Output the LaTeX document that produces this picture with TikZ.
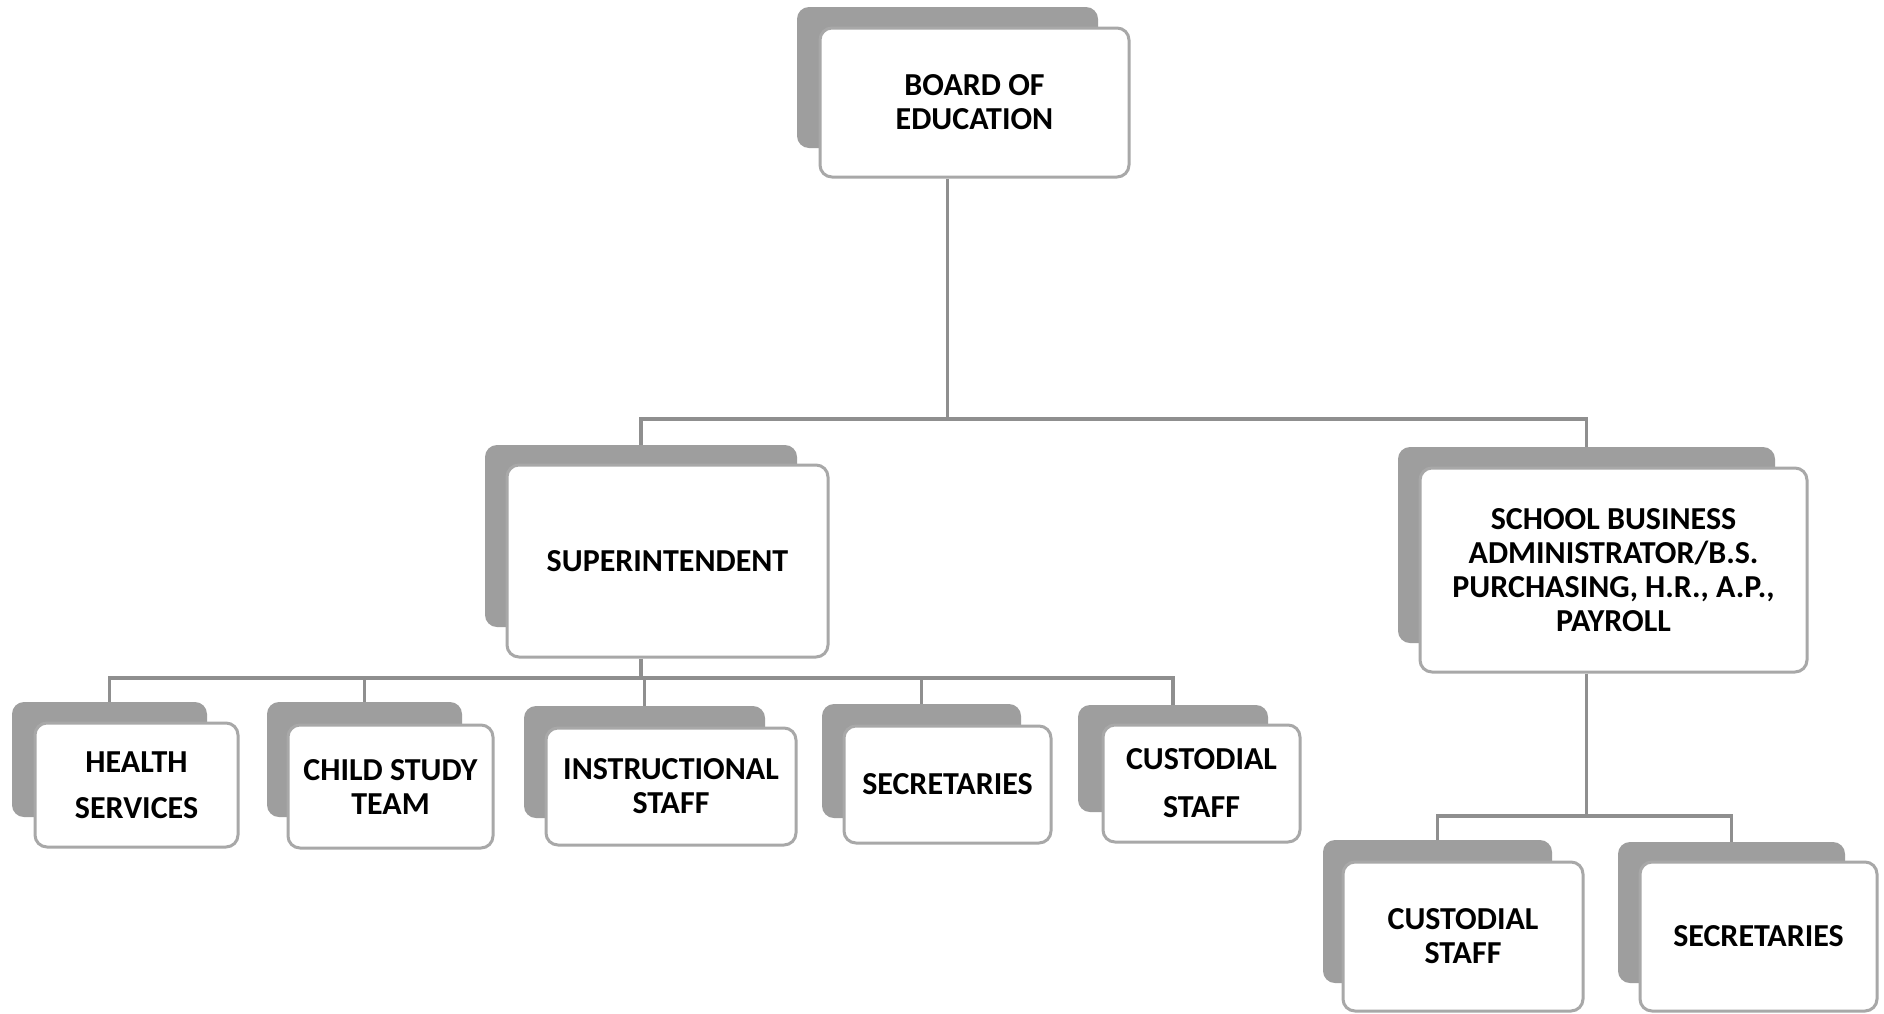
\documentclass[tikz,border=0pt]{standalone}
\usepackage{fontspec}
\setmainfont{Carlito}
\usetikzlibrary{fit}
\definecolor{backgray}{gray}{0.62}
\definecolor{edgegray}{gray}{0.66}
\definecolor{linegray}{gray}{0.56}
\tikzset{
  backbox/.style={fill=backgray, draw=none, rounded corners=6pt, inner sep=0pt},
  frontbox/.style={fill=white, draw=edgegray, line width=1.5pt, rounded corners=6pt, inner sep=0pt},
  boxtext/.style={inner sep=0pt, align=center, font=\fontsize{16}{17}\selectfont\bfseries},
  conn/.style={draw=linegray, line width=1.6pt}
}
\begin{document}
\begin{tikzpicture}[x=0.5pt, y=-0.5pt]
\useasboundingbox[fill=white] (0,0) rectangle (1884,1013);

% Board of Education
\node[backbox, fit={(797,7)(1098,148)}] (boardb) {};
\node[frontbox, fit={(820,28)(1129,177)}] (board) {};
\node[boxtext] (boardt) at (board.center) {BOARD OF\\EDUCATION};

% Superintendent
\node[backbox, fit={(485,445)(797,627)}] (supb) {};
\node[frontbox, fit={(507,465)(828,657)}] (sup) {};
\node[boxtext] (supt) at (sup.center) {SUPERINTENDENT};

% School Business Administrator
\node[backbox, fit={(1398,447)(1775,643)}] (sbab) {};
\node[frontbox, fit={(1420,468)(1807,672)}] (sba) {};
\node[boxtext] (sbat) at (sba.center) {SCHOOL BUSINESS\\ADMINISTRATOR/B.S.\\PURCHASING, H.R., A.P.,\\PAYROLL};

% Row under superintendent
\node[backbox, fit={(12,702)(207,817)}] (hsb) {};
\node[frontbox, fit={(35,723)(238,847)}] (hs) {};
\node[boxtext] (hst) at (hs.center) {HEALTH\\[6pt]SERVICES};

\node[backbox, fit={(267,702)(462,817)}] (cstb) {};
\node[frontbox, fit={(288,725)(493,848)}] (cst) {};
\node[boxtext] (cstt) at (cst.center) {CHILD STUDY\\TEAM};

\node[backbox, fit={(524,706)(765,818)}] (insb) {};
\node[frontbox, fit={(546,728)(796,845)}] (ins) {};
\node[boxtext] (inst) at (ins.center) {INSTRUCTIONAL\\STAFF};

\node[backbox, fit={(822,704)(1021,818)}] (secb) {};
\node[frontbox, fit={(844,726)(1051,843)}] (sec) {};
\node[boxtext] (sect) at (sec.center) {SECRETARIES};

\node[backbox, fit={(1078,705)(1268,812)}] (cusb) {};
\node[frontbox, fit={(1103,725)(1300,842)}] (cus) {};
\node[boxtext] (cust) at (cus.center) {CUSTODIAL\\[7pt]STAFF};

% Row under SBA
\node[backbox, fit={(1323,840)(1552,983)}] (cusbb) {};
\node[frontbox, fit={(1343,862)(1583,1011)}] (cusbr) {};
\node[boxtext] (cusbrt) at (cusbr.center) {CUSTODIAL\\STAFF};

\node[backbox, fit={(1618,842)(1845,983)}] (secbb) {};
\node[frontbox, fit={(1640,862)(1877,1011)}] (secbr) {};
\node[boxtext] (secbrt) at (secbr.center) {SECRETARIES};

% bus levels
\coordinate (busA) at (0,419);
\coordinate (busB) at (0,678);
\coordinate (busC) at (0,816);

% connectors
\draw[conn] (boardb.center |- board.south) -- (boardb.center |- busA);
\draw[conn] (supb.north) |- (boardb.center |- busA) -| (sbab.north);

\draw[conn] (supb.center |- sup.south) -- (supb.center |- busB);
\draw[conn] (hsb.north) |- (cusb.north |- busB) -- (cusb.north);
\draw[conn] (cstb.north |- busB) -- (cstb.north);
\draw[conn] (insb.north |- busB) -- (insb.north);
\draw[conn] (secb.north |- busB) -- (secb.north);

\draw[conn] (sbab.center |- sba.south) -- (sbab.center |- busC);
\draw[conn] (cusbb.north) |- (secbb.north |- busC) -- (secbb.north);
\end{tikzpicture}
\end{document}
